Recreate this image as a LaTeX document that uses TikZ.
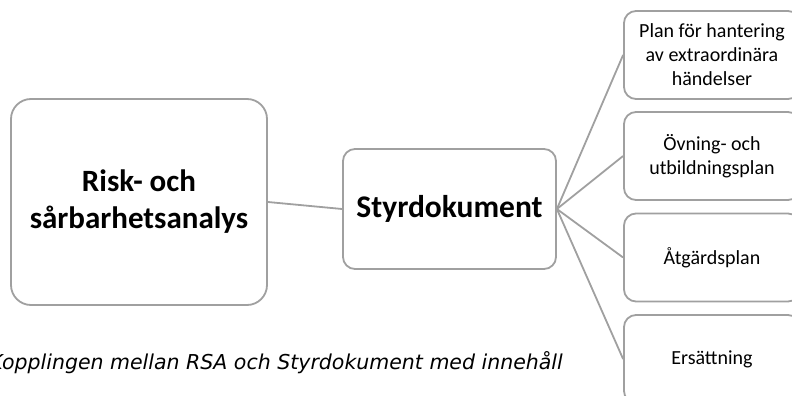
\documentclass[tikz,border=0pt]{standalone}
\usepackage{fontspec}
\setmainfont{Carlito}
\newfontfamily\capfont{DejaVu Sans}
\begin{document}
\begin{tikzpicture}[x=1pt,y=-1pt,
  box/.style={draw=boxgray,line width=1.8pt,rounded corners=#1,inner sep=0pt,align=center,fill=white},
  box/.default=12pt,
  link/.style={draw=boxgray,line width=1.8pt}]
\definecolor{boxgray}{HTML}{A0A0A0}
\useasboundingbox (0,0) rectangle (792,396);
\node[box=20pt,minimum width=256pt,minimum height=206pt,font=\bfseries\fontsize{31}{37}\selectfont] (rsa) at (139,202) {Risk- och\\sårbarhetsanalys};
\node[box=12pt,minimum width=213pt,minimum height=120pt,font=\bfseries\fontsize{31.5}{37}\selectfont] (sty) at (449.5,209) {Styrdokument};
\begin{scope}[every node/.style={box=12pt,minimum width=176pt,minimum height=88pt,font=\fontsize{20}{24}\selectfont}]
\node (p1) at (712,55) {Plan för hantering\\av extraordinära\\händelser};
\node (p2) at (712,156) {Övning- och\\utbildningsplan};
\node (p3) at (712,257.5) {Åtgärdsplan};
\node (p4) at (712,359) {Ersättning};
\end{scope}
\draw[link] (rsa.east) -- (sty.west);
\foreach \n in {p1,p2,p3,p4} \draw[link] (sty.east) -- (\n.west);
\node[anchor=base east,inner sep=0pt,font=\capfont\itshape\fontsize{20.5}{24}\selectfont] (cap) at (563,369) {Kopplingen mellan RSA och Styrdokument med innehåll};
\end{tikzpicture}
\end{document}
